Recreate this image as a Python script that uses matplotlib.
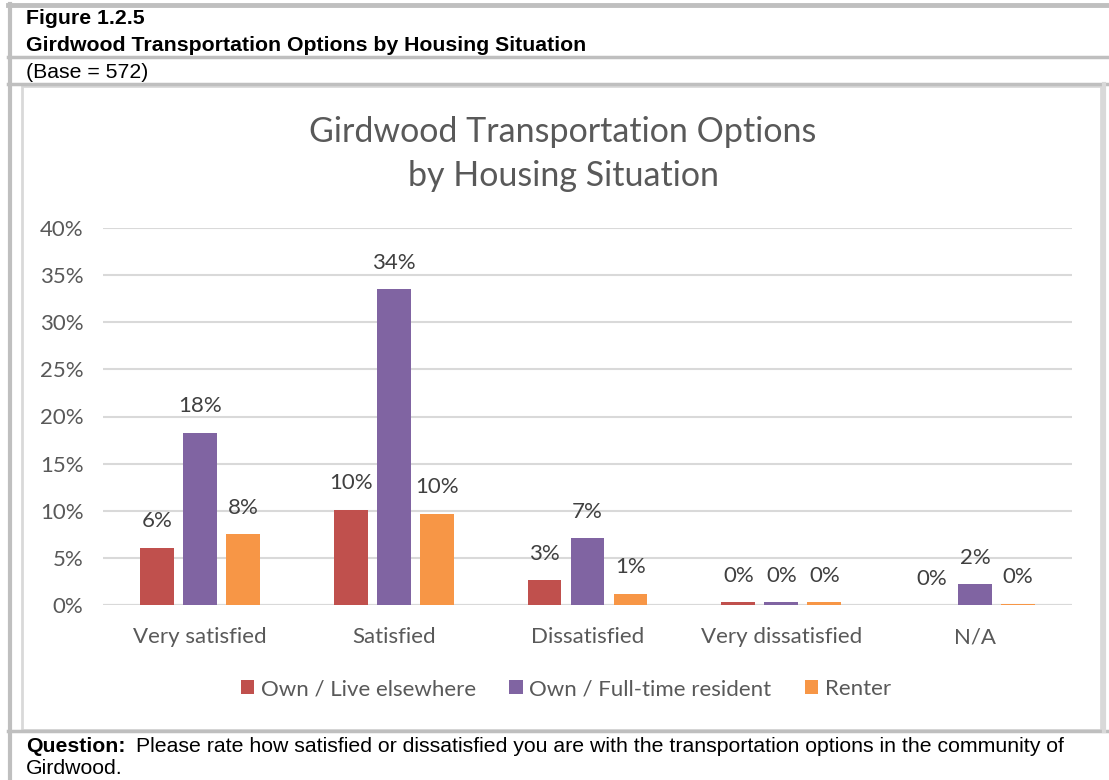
import matplotlib.pyplot as plt
import numpy as np

plt.rcParams['font.family'] = ['Lato', 'DejaVu Sans']

# survey shares (percent)
categories = ['Very satisfied', 'Satisfied', 'Dissatisfied', 'Very dissatisfied', 'N/A']
series = ['Own / Live elsewhere', 'Own / Full-time resident', 'Renter']
own_elsewhere = [6.1, 10.1, 2.6, 0.3, 0.0]
own_fulltime = [18.3, 33.5, 7.1, 0.3, 2.2]
renter = [7.5, 9.7, 1.2, 0.3, 0.15]
colors = ['#C0504D', '#8064A2', '#F79646']
yticks = [0, 5, 10, 15, 20, 25, 30, 35, 40]

W, H = 1109, 780
fig = plt.figure(figsize=(W / 100, H / 100), dpi=100)

# background layer in pixel coordinates for the table frame
bg = fig.add_axes([0, 0, 1, 1])
bg.set_xlim(0, W)
bg.set_ylim(H, 0)
bg.axis('off')

frame = '#BFBFBF'
bg.plot([8, W], [5, 5], color=frame, lw=3.5)
bg.plot([9.5, 9.5], [4, H], color=frame, lw=3)
bg.plot([8, W], [57, 57], color=frame, lw=2.5)
bg.plot([8, W], [83.5, 83.5], color=frame, lw=2.5)
bg.plot([8, W], [731, 731], color=frame, lw=2.5)
bg.plot([1104, 1104], [84, 731], color='#D9D9D9', lw=3)
# inner chart box
bg.add_patch(plt.Rectangle((22, 86), 1079, 644, fill=False, ec='#D9D9D9', lw=2))

hdr = ['Liberation Sans', 'DejaVu Sans']
fs = 15.3
bg.text(26, 24, 'Figure 1.2.5', family=hdr, fontsize=fs, weight='bold', va='baseline')
bg.text(26, 51, 'Girdwood Transportation Options by Housing Situation', family=hdr,
        fontsize=fs, weight='bold', va='baseline')
bg.text(26, 78, '(Base = 572)', family=hdr, fontsize=fs, va='baseline')

q = bg.text(26, 752, 'Question:', family=hdr, fontsize=fs, weight='bold', va='baseline')
fig.canvas.draw()
bb = q.get_window_extent()
bg.text(bb.x1 + 10, 752, 'Please rate how satisfied or dissatisfied you are with the transportation '
        'options in the community of', family=hdr, fontsize=fs, va='baseline')
bg.text(26, 774, 'Girdwood.', family=hdr, fontsize=fs, va='baseline')

# chart
ax = fig.add_axes([103 / W, 1 - 605 / H, 969 / W, 377 / H])
x = np.arange(len(categories))
step = 0.222
width = 0.175
for i, (vals, name) in enumerate(zip([own_elsewhere, own_fulltime, renter], series)):
    pos = x + (i - 1) * step
    ax.bar(pos, vals, width, color=colors[i], label=name, zorder=3)
    for px, v in zip(pos, vals):
        ax.annotate(f'{int(v + 0.5)}%', (px, v), xytext=(0, 19), textcoords='offset points',
                    ha='center', va='center', fontsize=16, color='#404040')

ax.set_xlim(-0.5, len(categories) - 0.5)
ax.set_ylim(0, 40)
ax.set_yticks(yticks)
ax.set_yticklabels([f'{t}%' for t in yticks])
ax.set_xticks(x)
ax.set_xticklabels(categories)
ax.grid(axis='y', color='#D9D9D9', lw=1.5, zorder=0)
for s in ['top', 'right', 'left', 'bottom']:
    ax.spines[s].set_visible(False)
ax.axhline(0, color='#D9D9D9', lw=1.5, zorder=2)
ax.tick_params(axis='both', length=0, labelsize=16, labelcolor='#595959')
ax.tick_params(axis='y', pad=14)
ax.tick_params(axis='x', pad=16)

fig.text(563 / W, 1 - 154 / H, 'Girdwood Transportation Options\nby Housing Situation',
         ha='center', va='center', fontsize=24.5, color='#595959', linespacing=1.5)

fig.legend(loc='center', bbox_to_anchor=(566 / W, 1 - 689 / H), ncol=3, frameon=False,
           fontsize=16, handlelength=0.6, handleheight=0.6, handletextpad=0.3,
           columnspacing=1.5, labelcolor='#595959')

fig.savefig('out.png', dpi=100)
